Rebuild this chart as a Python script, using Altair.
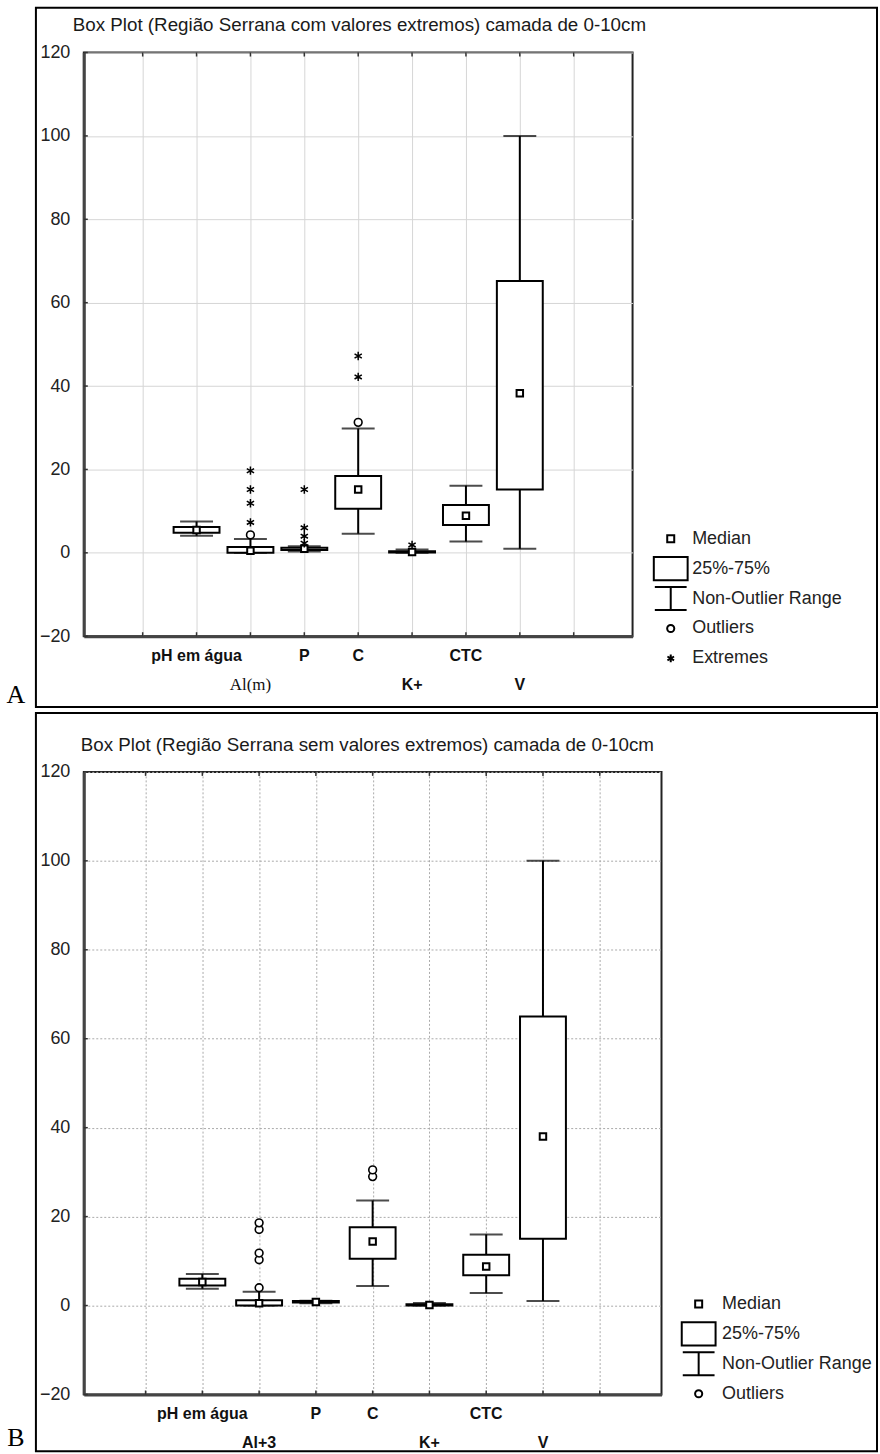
import altair as alt
import pandas as pd

FONT = "Liberation Sans"
SERIF = "Liberation Serif"

# ---------------- Panel A (com valores extremos) ----------------
a_title = "Box Plot (Região Serrana com valores extremos) camada de 0-10cm"
a_categories = ["pH em água", "Al(m)", "P", "C", "K+", "CTC", "V"]
a_label_row = [1, 2, 1, 1, 2, 1, 2]
a_low = [4.1, 0.0, 0.3, 4.6, 0.0, 2.7, 1.0]
a_q1 = [4.8, 0.0, 0.7, 10.6, 0.1, 6.7, 15.2]
a_median = [5.5, 0.5, 1.0, 15.2, 0.2, 8.9, 38.3]
a_q3 = [6.2, 1.4, 1.2, 18.4, 0.4, 11.5, 65.2]
a_high = [7.5, 3.3, 1.6, 29.8, 0.8, 16.1, 100.0]
a_outlier_cat = ["Al(m)", "C"]
a_outlier_val = [4.3, 31.3]
a_extreme_cat = ["Al(m)", "Al(m)", "Al(m)", "Al(m)", "P", "P", "P", "P", "C", "C", "K+"]
a_extreme_val = [7.3, 11.9, 15.2, 19.7, 2.3, 4.0, 6.0, 15.2, 42.2, 47.2, 1.9]
a_legend = ["Median", "25%-75%", "Non-Outlier Range", "Outliers", "Extremes"]

# ---------------- Panel B (sem valores extremos) ----------------
b_title = "Box Plot (Região Serrana sem valores extremos) camada de 0-10cm"
b_categories = ["pH em água", "Al+3", "P", "C", "K+", "CTC", "V"]
b_label_row = [1, 2, 1, 1, 2, 1, 2]
b_low = [3.8, 0.0, 0.5, 4.4, 0.0, 2.8, 1.0]
b_q1 = [4.5, 0.0, 0.7, 10.5, 0.0, 6.8, 15.0]
b_median = [5.3, 0.5, 0.8, 14.4, 0.1, 8.8, 38.0]
b_q3 = [6.0, 1.2, 1.0, 17.6, 0.3, 11.4, 65.0]
b_high = [7.1, 3.1, 1.1, 23.6, 0.6, 16.0, 100.0]
b_outlier_cat = ["Al+3", "Al+3", "Al+3", "Al+3", "Al+3", "C", "C"]
b_outlier_val = [4.0, 10.3, 11.8, 17.1, 18.6, 29.0, 30.5]
b_extreme_cat = []
b_extreme_val = []
b_legend = ["Median", "25%-75%", "Non-Outlier Range", "Outliers"]

y_ticks = [-20, 0, 20, 40, 60, 80, 100, 120]
x_slots = [1, 2, 3, 4, 5, 6, 7, 8, 9]

LEGEND_PATHS = {
    "Median": "M-0.275,-0.275H0.275V0.275H-0.275Z",
    "25%-75%": "M-1.33,-0.92H1.33V0.92H-1.33Z",
    "Non-Outlier Range": "M-1.25,-0.9H1.25M0,-0.9V0.9M-1.25,0.9H1.25",
    "Outliers": "M0.28,0A0.28,0.28,0,1,1,-0.28,0A0.28,0.28,0,1,1,0.28,0",
    "Extremes": "M0,-0.3V0.3M-0.26,-0.15L0.26,0.15M-0.26,0.15L0.26,-0.15",
}
ASTERISK = "M0,-1V1M-0.87,-0.5L0.87,0.5M-0.87,0.5L0.87,-0.5"


def panel(cats, rows, low, q1, med, q3, high, out_cat, out_val, ext_cat, ext_val,
          legend_items, w, h, grid_kw, legend_xy, label_offset, row_padding,
          title, title_xy, letter, letter_xy, border, sheet, serif_cats, row2_y):
    stats = pd.DataFrame({"cat": cats, "row": rows, "low": low, "q1": q1,
                          "median": med, "q3": q3, "high": high})
    stats["pos"] = list(range(2, 2 + len(cats)))
    pos_of = dict(zip(stats["cat"], stats["pos"]))
    outs = pd.DataFrame({"cat": out_cat, "val": out_val})
    outs["pos"] = outs["cat"].map(pos_of)
    exts = pd.DataFrame({"cat": ext_cat, "val": ext_val})
    exts["pos"] = exts["cat"].map(pos_of) if len(ext_cat) else []
    one = pd.DataFrame({"k": [0]})
    xt = pd.DataFrame({"pos": x_slots})
    yt = pd.DataFrame({"v": y_ticks})

    x_axis = alt.Axis(values=x_slots, labels=False, ticks=False, grid=True,
                      domainWidth=3, domainColor="#444", title=None, **grid_kw)
    y_axis = alt.Axis(values=y_ticks, ticks=False, grid=True, labelFont=FONT,
                      labelFontSize=18, labelColor="#222", labelPadding=14,
                      domainWidth=3, domainColor="#444", title=None, **grid_kw)
    xs = alt.Scale(domain=[0, 10], nice=False, zero=False)
    ys = alt.Scale(domain=[-20, 120], nice=False, zero=False)

    def X():
        return alt.X("pos:Q", scale=xs, axis=x_axis, title=None)

    def Y(f):
        return alt.Y(f, scale=ys, axis=y_axis, title=None)

    base = alt.Chart(stats)

    # transparent sheet: fixes the panel's outer extent on the page
    sheet_l = alt.Chart(one).mark_rect(fill="white", fillOpacity=0, strokeWidth=0).encode(
        x=alt.value(sheet[0]), x2=alt.value(sheet[2]),
        y=alt.value(sheet[1]), y2=alt.value(sheet[3]))
    border_l = alt.Chart(one).mark_rect(fill="white", fillOpacity=0, stroke="black",
                                        strokeWidth=2).encode(
        x=alt.value(border[0]), x2=alt.value(border[2]),
        y=alt.value(border[1]), y2=alt.value(border[3]))
    title_l = alt.Chart(one).mark_text(align="left", baseline="middle", font=FONT,
                                       fontSize=18.8, color="#1a1a1a").encode(
        x=alt.value(title_xy[0]), y=alt.value(title_xy[1]), text=alt.value(title))
    letter_l = alt.Chart(one).mark_text(align="center", baseline="alphabetic", font=SERIF,
                                        fontSize=26, color="black").encode(
        x=alt.value(letter_xy[0]), y=alt.value(letter_xy[1]), text=alt.value(letter))

    # small inward tick marks on the frame
    tick_top = alt.Chart(xt).mark_rule(color="#333", strokeWidth=1.5).encode(
        x=X(), y=alt.value(0), y2=alt.value(4))
    tick_bot = alt.Chart(xt).mark_rule(color="#333", strokeWidth=1.5).encode(
        x=X(), y=alt.value(h - 4), y2=alt.value(h))
    tick_left = alt.Chart(yt).mark_rule(color="#333", strokeWidth=1.5).encode(
        y=Y("v:Q"), x=alt.value(0), x2=alt.value(4))

    serif_list = "[" + ",".join("'%s'" % c for c in serif_cats) + "]"
    row1 = base.transform_filter("datum.row == 1").mark_text(
        font=FONT, fontSize=16, fontWeight="bold", baseline="middle", color="#111").encode(
        x=X(), y=alt.value(h + 20), text="cat:N")
    row2 = base.transform_filter("datum.row == 2 && indexof(%s, datum.cat) < 0" % serif_list).mark_text(
        font=FONT, fontSize=16, fontWeight="bold", baseline="middle", color="#111").encode(
        x=X(), y=alt.value(row2_y), text="cat:N")
    layers = [sheet_l, border_l, title_l, letter_l, tick_top, tick_bot, tick_left, row1, row2]
    if serif_cats:
        row2s = base.transform_filter("indexof(%s, datum.cat) >= 0" % serif_list).mark_text(
            font=SERIF, fontSize=17, baseline="middle", color="#111").encode(
            x=X(), y=alt.value(row2_y), text="cat:N")
        layers.append(row2s)

    whisk = base.mark_rule(color="black", strokeWidth=2).encode(
        x=X(), y=Y("low:Q"), y2="high:Q")
    caps = base.transform_fold(["low", "high"], as_=["end", "value"]).mark_tick(
        orient="horizontal", size=33, thickness=2, color="black").encode(
        x=X(), y=Y("value:Q"))
    box = base.mark_bar(orient="vertical", size=46, fill="white", stroke="black",
                        strokeWidth=2).encode(x=X(), y=Y("q1:Q"), y2="q3:Q")
    medm = base.mark_point(shape="square", size=42, filled=True, fill="white",
                           stroke="black", strokeWidth=2, opacity=1).encode(
        x=X(), y=Y("median:Q"))
    outl = alt.Chart(outs).mark_point(shape="circle", size=60, filled=True, fill="white",
                                      stroke="black", strokeWidth=1.6, opacity=1).encode(
        x=X(), y=Y("val:Q"))
    layers += [whisk, caps, box, medm, outl]
    if len(ext_cat):
        extl = alt.Chart(exts).mark_point(shape=ASTERISK, size=70, filled=False,
                                          color="black", strokeWidth=1.5, opacity=1).encode(
            x=X(), y=Y("val:Q"))
        layers.append(extl)

    leg = alt.Chart(pd.DataFrame({"item": legend_items})).mark_point(
        opacity=0, filled=False, color="black", strokeWidth=2).encode(
        shape=alt.Shape("item:N",
                        scale=alt.Scale(domain=legend_items,
                                        range=[LEGEND_PATHS[i] for i in legend_items]),
                        legend=alt.Legend(title=None, orient="none",
                                          legendX=legend_xy[0], legendY=legend_xy[1],
                                          symbolSize=650, symbolStrokeWidth=2,
                                          symbolStrokeColor="black", symbolFillColor="white",
                                          symbolOpacity=1, labelFont=FONT, labelFontSize=18,
                                          labelColor="#222", labelOffset=label_offset,
                                          gridAlign="all",
                                          rowPadding=row_padding, padding=0, labelLimit=400)))
    layers.append(leg)
    return alt.layer(*layers).properties(width=w, height=h)


# both plot areas start at page x = 83; A top = 50, B top = 769
panel_a = panel(a_categories, a_label_row, a_low, a_q1, a_median, a_q3, a_high,
                a_outlier_cat, a_outlier_val, a_extreme_cat, a_extreme_val, a_legend,
                550, 585, {"gridColor": "#d6d6d6", "gridWidth": 1},
                (574.25, 473.25), 7.5, -7, a_title, (-11, -28), "A", (-68, 652),
                (-48, -45, 795, 656), (-83, -50, 797, 658), ["Al(m)"], 634)

panel_b = panel(b_categories, b_label_row, b_low, b_q1, b_median, b_q3, b_high,
                b_outlier_cat, b_outlier_val, b_extreme_cat, b_extreme_val, b_legend,
                579, 624, {"gridColor": "#aaaaaa", "gridWidth": 1, "gridDash": [2, 2]},
                (602.25, 519.25), 9.5, -5.5, b_title, (-3, -27), "B", (-68, 676),
                (-48, -59, 795, 681), (-83, -61, 797, 685), [], 673)

chart = alt.vconcat(panel_a, panel_b, spacing=0).resolve_scale(
    x="independent", y="independent", shape="independent").resolve_legend(
    shape="independent").configure_view(stroke="#222", strokeWidth=2).properties(
    padding=0, background="white")

chart.save("out.html", embed_options={"renderer": "svg", "actions": False})
